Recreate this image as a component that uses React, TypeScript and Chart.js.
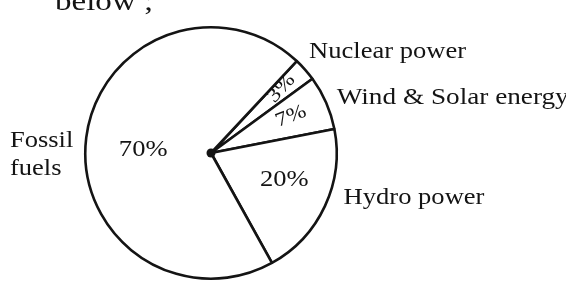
import React, { useEffect, useRef } from "react";
import { Chart, registerables } from "chart.js";

Chart.register(...registerables);

// ---- data ----
const categories = ["Nuclear power", "Wind & Solar energy", "Hydro power", "Fossil fuels"];
const shares = [3, 7, 20, 70];
const shareLabels = ["3%", "7%", "20%", "70%"];
const headerText = "below ;";

// ---- presentation (not data) ----
const FONT = "\"Liberation Serif\", \"Times New Roman\", Tinos, serif";
const STRETCH = 1.18;
const INK = "#141414";
// category label anchors, in units of the pie radius from the centre
const catPlacement = [
  { fx: 0.78, fy: -0.756, stretch: 1.18 },
  { fx: 1.0, fy: -0.386, stretch: 1.21 },
  { fx: 1.055, fy: 0.409, stretch: 1.18 },
  { fx: -1.6, fy: -0.047, wrap: true, lineGap: 0.22, stretch: 1.18 },
];
// share label placement along the slice bisector
const pctPlacement = [
  { frac: 0.76, dAng: -1, rotate: true, rotAdj: -6, size: 20 },
  { frac: 0.7, dAng: -1, rotate: true, rotAdj: 2, size: 20 },
  { frac: 0.62, dAng: -5, rotate: false, rotAdj: 0, size: 22.5 },
  { frac: 0.54, dAng: -4.5, rotate: false, rotAdj: 0, size: 22.5 },
];

function stretchedText(
  ctx: CanvasRenderingContext2D,
  text: string,
  x: number,
  y: number,
  size: number,
  align: CanvasTextAlign,
  baseline: CanvasTextBaseline,
  angle = 0,
  stretch = STRETCH
) {
  ctx.save();
  ctx.translate(x, y);
  if (angle) ctx.rotate(angle);
  ctx.scale(stretch, 1);
  ctx.font = `${size}px ${FONT}`;
  ctx.fillStyle = INK;
  ctx.textAlign = align;
  ctx.textBaseline = baseline;
  ctx.fillText(text, 0, 0);
  ctx.restore();
}

const labelPlugin = {
  id: "pieAnnotations",
  afterDraw(chart: any) {
    const ctx: CanvasRenderingContext2D = chart.ctx;
    const meta = chart.getDatasetMeta(0);
    const arcs = meta.data;
    if (!arcs.length) return;
    const { x: cx, y: cy, outerRadius: r } = arcs[0].getProps(["x", "y", "outerRadius"], true);

    // header text (cut at top of image)
    stretchedText(ctx, headerText, 55, 10, 28, "left", "alphabetic");

    // centre dot
    ctx.save();
    ctx.beginPath();
    ctx.arc(cx, cy, 4.5, 0, Math.PI * 2);
    ctx.fillStyle = INK;
    ctx.fill();
    ctx.restore();

    arcs.forEach((arc: any, i: number) => {
      const { startAngle, endAngle } = arc.getProps(["startAngle", "endAngle"], true);
      const mid = (startAngle + endAngle) / 2;
      // share labels
      const p = pctPlacement[i];
      const a = mid + (p.dAng * Math.PI) / 180;
      const px = cx + Math.cos(a) * r * p.frac;
      const py = cy + Math.sin(a) * r * p.frac;
      const rot = p.rotate ? mid + (p.rotAdj * Math.PI) / 180 : 0;
      stretchedText(ctx, shareLabels[i], px, py, p.size, "center", "middle", rot);

      // category labels
      const c = catPlacement[i];
      const lx = cx + c.fx * r;
      const ly = cy + c.fy * r;
      if (c.wrap) {
        categories[i].split(" ").forEach((w, k) => {
          stretchedText(ctx, w, lx, ly + k * (c.lineGap || 0) * r, 22.5, "left", "alphabetic", 0, c.stretch);
        });
      } else {
        stretchedText(ctx, categories[i], lx, ly, 22.5, "left", "alphabetic", 0, c.stretch);
      }
    });
  },
};

export default function App() {
  const ref = useRef<HTMLCanvasElement | null>(null);

  useEffect(() => {
    if (!ref.current) return;
    const chart = new Chart(ref.current, {
      type: "pie",
      data: {
        labels: categories,
        datasets: [
          {
            data: shares,
            backgroundColor: "#ffffff",
            borderColor: INK,
            borderWidth: 2.6,
            hoverOffset: 0,
          },
        ],
      },
      options: {
        responsive: false,
        animation: false,
        devicePixelRatio: 1,
        rotation: 43,
        layout: { padding: { left: 84, top: 26, right: 228, bottom: 1 } },
        plugins: {
          legend: { display: false },
          tooltip: { enabled: false },
          title: { display: false },
        },
        events: [],
      },
      plugins: [labelPlugin],
    });
    return () => {
      chart.destroy();
    };
  }, []);

  return (
    <div style={{ position: "absolute", left: 0, top: 0, width: 566, height: 281, background: "#fff" }}>
      <canvas ref={ref} width={566} height={281} style={{ display: "block", width: 566, height: 281 }} />
    </div>
  );
}
